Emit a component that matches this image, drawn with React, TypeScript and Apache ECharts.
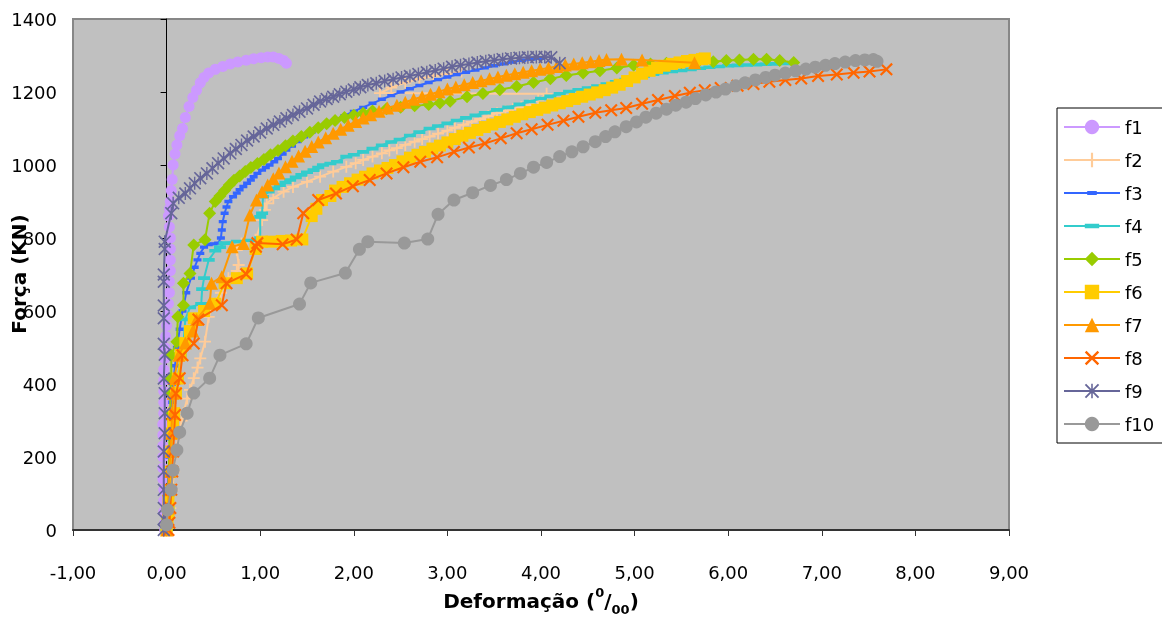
import React, { useEffect, useRef } from "react";
import * as echarts from "echarts";

const FONT = "'DejaVu Sans', sans-serif";

const seriesNames = ["f1", "f2", "f3", "f4", "f5", "f6", "f7", "f8", "f9", "f10"];
const seriesColors = ["#CC99FF", "#FFCC99", "#3366FF", "#33CCCC", "#99CC00", "#FFCC00", "#FF9900", "#FF6600", "#666699", "#999999"];
const xTickLabels = ["-1,00", "0,00", "1,00", "2,00", "3,00", "4,00", "5,00", "6,00", "7,00", "8,00", "9,00"];
const yTitle = "Força (KN)";

const f1 = [[-0.02,0],[-0.02,20],[-0.03,50],[-0.03,80],[-0.03,110],[-0.04,140],[-0.04,170],[-0.04,200],[-0.04,230],[-0.04,260],[-0.04,290],[-0.03,320],[-0.03,350],[-0.03,380],[-0.03,410],[-0.03,440],[-0.02,470],[-0.02,500],[-0.01,530],[0,560],[0.01,590],[0.02,620],[0.03,650],[0.03,680],[0.04,710],[0.04,740],[0.04,770],[0.04,800],[0.03,830],[0.02,860],[0.03,880],[0.04,900],[0.05,930],[0.06,960],[0.07,1000],[0.09,1030],[0.11,1055],[0.14,1080],[0.17,1100],[0.2,1130],[0.24,1160],[0.28,1185],[0.32,1205],[0.36,1225],[0.4,1240],[0.45,1252],[0.52,1262],[0.6,1270],[0.68,1277],[0.76,1282],[0.85,1287],[0.93,1291],[1.01,1294],[1.08,1296],[1.14,1296],[1.2,1292],[1.25,1286],[1.28,1279]];
const f2 = [[0,0],[0.02,30],[0.04,60],[0.06,110],[0.08,160],[0.1,215],[0.13,265],[0.16,300],[0.18,320],[0.22,360],[0.25,384],[0.29,416],[0.33,445],[0.36,470],[0.41,516],[0.45,584],[0.5,620],[0.58,650],[0.66,690],[0.75,710],[0.77,726],[0.75,767],[0.8,785],[0.95,795],[1.02,849],[1.05,877],[1.07,895],[1.14,909],[1.25,927],[1.35,940],[1.5,954],[1.64,968],[1.78,982],[1.92,995],[2.02,1005],[2.1,1014],[2.2,1023],[2.3,1032],[2.38,1040],[2.46,1046],[2.55,1055],[2.65,1064],[2.73,1071],[2.81,1078],[2.9,1086],[3.0,1094],[3.08,1102],[3.17,1110],[3.26,1118],[3.35,1126],[3.44,1134],[3.53,1142],[3.62,1148],[3.7,1153],[3.79,1158],[3.88,1164],[3.97,1178],[4.06,1195],[2.28,1197],[2.4,1212],[2.55,1226],[2.7,1236],[2.85,1244],[3.0,1250],[3.15,1256]];
const f3 = [[0,0],[0,30],[0.01,60],[0.01,100],[0.02,150],[0.03,200],[0.04,250],[0.05,300],[0.06,350],[0.07,400],[0.09,450],[0.11,500],[0.14,550],[0.17,600],[0.21,650],[0.26,690],[0.3,720],[0.33,740],[0.36,758],[0.4,775],[0.45,782],[0.5,784],[0.55,786],[0.58,800],[0.59,822],[0.6,845],[0.62,868],[0.64,885],[0.66,900],[0.71,913],[0.75,923],[0.78,932],[0.82,941],[0.86,950],[0.9,959],[0.93,968],[0.97,977],[1.02,986],[1.06,993],[1.1,1000],[1.15,1009],[1.19,1018],[1.24,1030],[1.28,1041],[1.34,1052],[1.4,1064],[1.47,1077],[1.55,1090],[1.62,1100],[1.7,1110],[1.8,1123],[1.9,1135],[2.0,1147],[2.1,1158],[2.2,1169],[2.3,1180],[2.4,1190],[2.5,1200],[2.6,1209],[2.7,1218],[2.8,1226],[2.9,1234],[3.0,1241],[3.1,1248],[3.2,1254],[3.3,1260],[3.4,1266],[3.5,1272],[3.6,1277],[3.7,1282],[3.8,1287],[3.9,1290],[4.0,1292]];
const f4 = [[0,0],[0.01,30],[0.02,60],[0.03,110],[0.04,160],[0.05,215],[0.06,265],[0.08,320],[0.1,375],[0.12,415],[0.15,479],[0.18,512],[0.2,577],[0.25,610],[0.37,620],[0.38,660],[0.4,690],[0.45,740],[0.52,765],[0.57,775],[0.62,786],[0.75,790],[0.9,793],[1.0,800],[1.0,858],[1.02,868],[1.03,913],[1.09,927],[1.15,936],[1.21,945],[1.27,952],[1.32,959],[1.38,966],[1.44,973],[1.5,980],[1.57,986],[1.62,993],[1.67,1000],[1.75,1004],[1.82,1009],[1.92,1023],[2.0,1028],[2.1,1036],[2.2,1045],[2.3,1054],[2.4,1063],[2.49,1070],[2.6,1081],[2.7,1090],[2.81,1100],[2.9,1107],[3.0,1114],[3.1,1122],[3.2,1129],[3.3,1136],[3.4,1143],[3.53,1151],[3.65,1158],[3.77,1166],[3.88,1174],[4.0,1182],[4.1,1188],[4.2,1195],[4.3,1201],[4.4,1206],[4.5,1211],[4.6,1216],[4.7,1222],[4.8,1228],[4.9,1234],[5.0,1240],[5.1,1244],[5.2,1249],[5.3,1253],[5.4,1256],[5.5,1259],[5.6,1262],[5.7,1265],[5.8,1268],[5.9,1270],[6.0,1272],[6.1,1273],[6.2,1274],[6.3,1275],[6.4,1276],[6.5,1277],[6.6,1278]];
const f5 = [[0,0],[0.01,30],[0.01,60],[0.02,110],[0.02,160],[0.03,215],[0.03,265],[0.04,320],[0.04,375],[0.05,415],[0.05,479],[0.11,516],[0.12,584],[0.18,616],[0.18,676],[0.25,703],[0.29,781],[0.41,795],[0.46,868],[0.52,900],[0.57,915],[0.62,930],[0.67,945],[0.72,958],[0.78,970],[0.84,982],[0.9,993],[0.97,1004],[1.04,1015],[1.11,1028],[1.19,1040],[1.27,1053],[1.35,1066],[1.44,1078],[1.53,1090],[1.62,1102],[1.71,1113],[1.8,1122],[1.9,1130],[2.0,1136],[2.1,1142],[2.2,1148],[2.35,1154],[2.5,1158],[2.65,1162],[2.8,1166],[2.92,1170],[3.03,1175],[3.21,1187],[3.38,1196],[3.56,1206],[3.74,1215],[3.92,1226],[4.1,1236],[4.27,1245],[4.45,1252],[4.63,1258],[4.81,1266],[4.99,1273],[5.17,1277],[5.34,1279],[5.5,1280],[5.67,1281],[5.84,1283],[5.98,1286],[6.12,1288],[6.27,1290],[6.41,1290],[6.55,1286],[6.7,1281]];
const f6 = [[0,0],[0.01,20],[0.02,50],[0.02,80],[0.03,110],[0.04,160],[0.05,215],[0.06,265],[0.07,290],[0.08,320],[0.1,375],[0.12,415],[0.15,480],[0.2,512],[0.25,545],[0.29,580],[0.4,600],[0.52,620],[0.62,676],[0.75,690],[0.86,703],[0.95,770],[1.02,790],[1.12,790],[1.23,792],[1.33,793],[1.45,796],[1.55,860],[1.6,880],[1.66,904],[1.75,915],[1.8,930],[1.88,940],[1.96,950],[2.04,960],[2.12,968],[2.2,977],[2.28,985],[2.36,992],[2.44,1000],[2.52,1010],[2.6,1020],[2.68,1028],[2.76,1036],[2.84,1045],[2.92,1053],[3.0,1062],[3.08,1071],[3.16,1080],[3.24,1088],[3.32,1096],[3.4,1104],[3.48,1111],[3.56,1118],[3.64,1125],[3.72,1132],[3.8,1139],[3.88,1145],[3.96,1151],[4.04,1157],[4.12,1163],[4.2,1169],[4.28,1175],[4.36,1181],[4.44,1187],[4.52,1193],[4.6,1199],[4.68,1205],[4.76,1212],[4.84,1220],[4.92,1230],[5.0,1240],[5.08,1250],[5.16,1258],[5.24,1266],[5.32,1272],[5.4,1277],[5.48,1281],[5.56,1285],[5.64,1288],[5.72,1290],[5.75,1292]];
const f7 = [[0,0],[0.01,30],[0.02,60],[0.02,110],[0.03,160],[0.04,215],[0.05,265],[0.06,320],[0.07,375],[0.08,415],[0.13,479],[0.2,512],[0.28,545],[0.32,577],[0.46,621],[0.48,676],[0.59,694],[0.7,776],[0.82,785],[0.89,863],[0.96,904],[1.02,927],[1.08,945],[1.14,962],[1.2,978],[1.27,995],[1.34,1010],[1.41,1025],[1.48,1038],[1.55,1051],[1.62,1063],[1.7,1075],[1.78,1087],[1.86,1098],[1.94,1109],[2.02,1119],[2.1,1129],[2.18,1138],[2.27,1147],[2.36,1156],[2.46,1164],[2.55,1172],[2.64,1180],[2.73,1187],[2.82,1194],[2.91,1201],[3.0,1208],[3.09,1214],[3.18,1220],[3.27,1226],[3.36,1231],[3.45,1236],[3.54,1241],[3.63,1246],[3.72,1250],[3.81,1254],[3.9,1258],[3.99,1262],[4.08,1266],[4.17,1270],[4.26,1274],[4.35,1277],[4.44,1280],[4.53,1283],[4.62,1286],[4.7,1289],[4.86,1290],[5.08,1288],[5.64,1280]];
const f8 = [[0.02,0],[0.03,20],[0.04,60],[0.05,110],[0.06,160],[0.07,215],[0.08,265],[0.09,315],[0.1,374],[0.14,416],[0.17,479],[0.29,511],[0.34,577],[0.59,616],[0.64,676],[0.85,701],[0.955,776],[0.97,786],[1.24,783],[1.39,796],[1.46,868],[1.62,904],[1.81,922],[1.99,942],[2.17,959],[2.35,977],[2.53,994],[2.71,1009],[2.89,1021],[3.07,1036],[3.23,1048],[3.4,1059],[3.57,1073],[3.74,1087],[3.9,1098],[4.07,1110],[4.24,1121],[4.4,1132],[4.58,1143],[4.75,1150],[4.91,1156],[5.08,1168],[5.25,1178],[5.43,1189],[5.59,1198],[5.75,1205],[5.92,1211],[6.1,1217],[6.27,1222],[6.44,1228],[6.61,1233],[6.78,1237],[6.96,1244],[7.16,1248],[7.34,1253],[7.51,1256],[7.69,1262]];
const f9 = [[-0.03,0],[-0.03,30],[-0.03,60],[-0.03,110],[-0.03,160],[-0.03,215],[-0.02,265],[-0.02,320],[-0.02,375],[-0.03,415],[-0.02,480],[-0.03,510],[-0.03,580],[-0.03,615],[-0.03,680],[-0.03,700],[-0.02,770],[-0.02,790],[0.05,868],[0.07,895],[0.13,910],[0.2,922],[0.25,936],[0.3,950],[0.36,964],[0.43,977],[0.49,991],[0.55,1005],[0.61,1018],[0.68,1032],[0.74,1044],[0.8,1055],[0.86,1067],[0.93,1078],[1.0,1089],[1.07,1100],[1.14,1110],[1.21,1119],[1.28,1128],[1.35,1137],[1.42,1146],[1.5,1155],[1.57,1165],[1.64,1174],[1.71,1181],[1.78,1187],[1.85,1194],[1.92,1201],[2.0,1207],[2.07,1213],[2.15,1219],[2.24,1224],[2.33,1230],[2.42,1235],[2.51,1240],[2.6,1244],[2.69,1249],[2.78,1254],[2.87,1259],[2.96,1264],[3.05,1269],[3.14,1273],[3.23,1277],[3.32,1281],[3.41,1284],[3.5,1287],[3.59,1290],[3.68,1292],[3.77,1294],[3.86,1295],[3.95,1296],[4.04,1296],[4.11,1295],[4.2,1279]];
const f10 = [[0,14],[0.01,55],[0.05,110],[0.07,164],[0.11,219],[0.14,268],[0.22,320],[0.29,375],[0.46,416],[0.57,479],[0.85,510],[0.98,581],[1.42,619],[1.54,677],[1.91,704],[2.06,769],[2.15,790],[2.54,786],[2.79,797],[2.9,865],[3.07,904],[3.27,924],[3.46,944],[3.63,960],[3.78,977],[3.92,994],[4.06,1007],[4.2,1023],[4.33,1036],[4.45,1050],[4.58,1064],[4.69,1078],[4.79,1091],[4.91,1105],[5.02,1118],[5.12,1131],[5.23,1142],[5.34,1153],[5.44,1164],[5.55,1172],[5.65,1182],[5.76,1192],[5.87,1200],[5.97,1208],[6.08,1217],[6.18,1225],[6.29,1233],[6.4,1240],[6.5,1246],[6.61,1252],[6.72,1258],[6.83,1263],[6.93,1268],[7.04,1273],[7.14,1278],[7.25,1282],[7.36,1286],[7.46,1288],[7.55,1289],[7.59,1284]];

const seriesData = [f1, f2, f3, f4, f5, f6, f7, f8, f9, f10];

const PLUS = "path://M5.1,0H6.9V5.1H12V6.9H6.9V12H5.1V6.9H0V5.1H5.1Z";
const DASH3 = "path://M0,0L0.01,0L0,0.01Z M12,12L11.99,12L12,11.99Z M2,4.3H10V7.7H2Z";
const DASH4 = "path://M0,0L0.01,0L0,0.01Z M12,12L11.99,12L12,11.99Z M0,4.2H12V7.8H0Z";
const CROSS = "path://M0,1.4L1.4,0L6,4.6L10.6,0L12,1.4L7.4,6L12,10.6L10.6,12L6,7.4L1.4,12L0,10.6L4.6,6Z";
const STAR = "path://M0,1.1L1.1,0L6,4.9L10.9,0L12,1.1L7.1,6L12,10.9L10.9,12L6,7.1L1.1,12L0,10.9L4.9,6Z M5.35,0H6.65V12H5.35Z";

const symbols = ["circle", PLUS, DASH3, DASH4, "diamond", "rect", "triangle", CROSS, STAR, "circle"];
const symbolSizes = [11, 12, 12, 12, 13, 12, 13, 13, 13, 13];

export default function App() {
  const ref = useRef<HTMLDivElement>(null);
  useEffect(() => {
    if (!ref.current) return;
    const chart = echarts.init(ref.current, null, { renderer: "svg" });
    const option = {
      animation: false,
      textStyle: { fontFamily: FONT },
      grid: {
        left: 73, right: 153, top: 19, bottom: 89,
        containLabel: false,
        outerBoundsMode: "none",
        show: true, backgroundColor: "#C0C0C0", borderColor: "#878787", borderWidth: 2,
      },
      legend: {
        orient: "vertical",
        left: 1057, top: 108,
        padding: [10, 10, 10, 6],
        itemWidth: 56, itemHeight: 18, itemGap: 15,
        borderColor: "#000", borderWidth: 1, backgroundColor: "#fff",
        textStyle: { fontFamily: FONT, fontSize: 18, color: "#000", lineHeight: 18 },
        data: seriesNames,
      },
      graphic: [
        {
          type: "text",
          x: 19, y: 274,
          rotation: Math.PI / 2,
          style: {
            text: yTitle,
            fontFamily: FONT, fontWeight: "bold", fontSize: 20, fill: "#000",
            align: "center", verticalAlign: "middle",
          },
        },
      ],
      xAxis: {
        type: "value", min: -1, max: 9, interval: 1,
        axisLine: { onZero: false, lineStyle: { color: "#333", width: 2 } },
        axisTick: { show: true, length: 6, lineStyle: { color: "#333", width: 1 } },
        splitLine: { show: false },
        axisLabel: {
          fontFamily: FONT, fontSize: 18, color: "#000", margin: 22,
          formatter: (v: number) => "{s|}\n{t|" + (xTickLabels[Math.round(v + 1)] ?? "") + "}",
          rich: {
            s: { fontSize: 10, lineHeight: 10 },
            t: { fontFamily: FONT, fontSize: 18, color: "#000", lineHeight: 20 },
          },
        },
        name: "{a|Deformação (}{s|0}{a|/}{b|00}{a|)}",
        nameLocation: "middle",
        nameGap: 56,
        nameMoveOverlap: false,
        nameTextStyle: {
          fontFamily: FONT, fontWeight: "bold", fontSize: 20, color: "#000",
          rich: {
            a: { fontFamily: FONT, fontWeight: "bold", fontSize: 20, color: "#000", lineHeight: 30, verticalAlign: "middle" },
            s: { fontFamily: FONT, fontWeight: "bold", fontSize: 13, color: "#000", lineHeight: 13, verticalAlign: "top" },
            b: { fontFamily: FONT, fontWeight: "bold", fontSize: 13, color: "#000", lineHeight: 13, verticalAlign: "bottom" },
          },
        },
      },
      yAxis: {
        type: "value", min: 0, max: 1400, interval: 200,
        axisLine: { show: true, onZero: true, lineStyle: { color: "#000", width: 1 } },
        axisTick: { show: true, length: 6, lineStyle: { color: "#000" } },
        splitLine: { show: false },
        axisLabel: { fontFamily: FONT, fontSize: 18, color: "#000", margin: 16, formatter: (v: number) => String(v) },
      },
      series: seriesNames.map((name, i) => ({
        name,
        type: "line",
        data: seriesData[i],
        z: 2 + i,
        symbol: symbols[i],
        symbolSize: symbolSizes[i],
        showSymbol: true,
        showAllSymbol: true,
        color: seriesColors[i],
        itemStyle: { color: seriesColors[i], borderWidth: 0 },
        lineStyle: { color: seriesColors[i], width: 2 },
        emphasis: { disabled: true },
      })),
    };
    chart.setOption(option as any);
    return () => chart.dispose();
  }, []);
  return <div ref={ref} style={{ position: "fixed", left: 0, top: 0, width: 1162, height: 619 }} />;
}
